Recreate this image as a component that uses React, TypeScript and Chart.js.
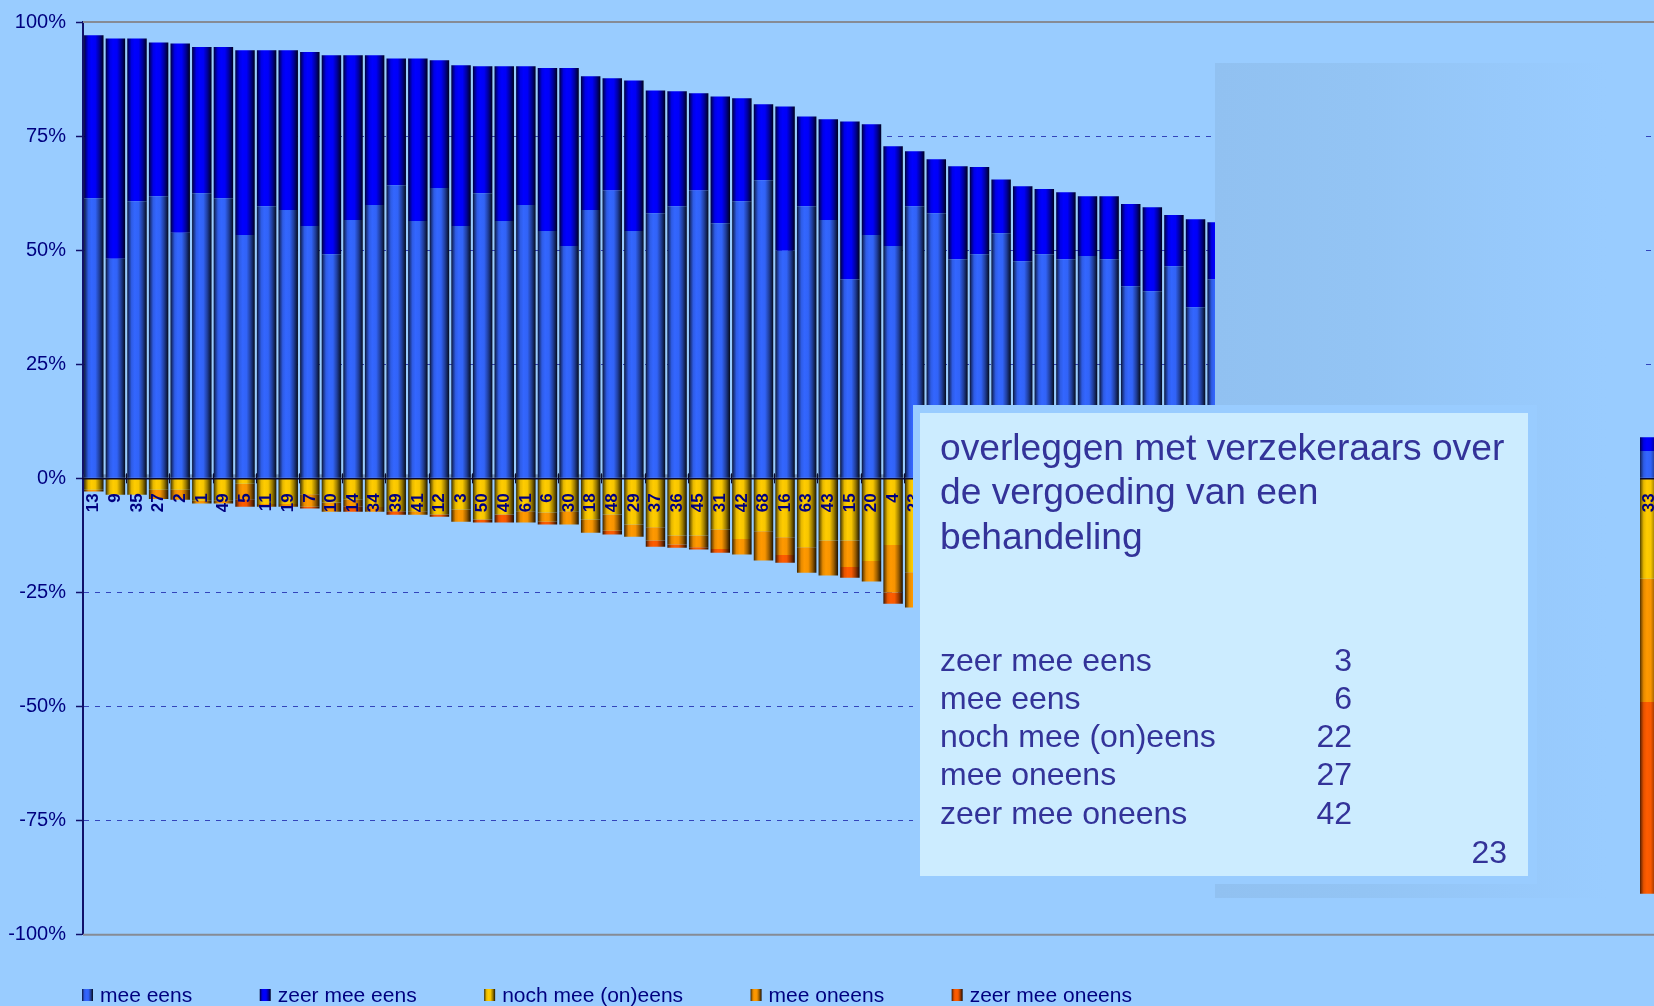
import React, { useEffect, useRef } from 'react';
import { Chart, registerables } from 'chart.js';

Chart.register(...registerables);

const FONT = '"Liberation Sans", Arial, Helvetica, sans-serif';

// ---- data -------------------------------------------------------------
const categories = [
  '13', '9', '35', '27', '2', '1', '49', '5', '11', '19',
  '7', '10', '14', '34', '39', '41', '12', '3', '50', '40',
  '61', '6', '30', '18', '48', '29', '37', '36', '45', '31',
  '42', '68', '16', '63', '43', '15', '20', '4', '23',
  '', '', '', '', '', '', '', '', '', '', '', '', '', '', '', '', '', '', '', '', '', '', '', '', '', '', '', '', '', '', '', '', '',
  '33',
];

const meeEens = [
  61.4, 48.1, 60.7, 61.8, 53.8, 62.5, 61.4, 53.3, 59.6, 58.8,
  55.3, 49.1, 56.6, 59.9, 64.2, 56.4, 63.6, 55.3, 62.5, 56.4,
  59.9, 54.2, 50.9, 58.8, 63.1, 54.2, 58.1, 59.6, 63.1, 55.9,
  60.7, 65.3, 49.9, 59.6, 56.6, 43.6, 53.3, 50.9, 59.6, 58.1,
  48.0, 49.1, 53.7, 47.6, 49.1, 48.0, 48.7, 48.0, 42.1, 41.0,
  46.5, 37.5, 43.6,
  null, null, null, null, null, null, null, null, null, null, null, null, null, null, null, null, null, null, null,
  6,
];

const zeerMeeEens = [
  35.7, 48.3, 35.7, 33.7, 41.5, 32.0, 33.1, 40.5, 34.2, 35.0,
  38.1, 43.6, 36.1, 32.8, 27.8, 35.6, 28.0, 35.2, 27.8, 33.9,
  30.4, 35.7, 39.0, 29.3, 24.6, 33.0, 26.9, 25.2, 21.3, 27.8,
  22.6, 16.7, 31.6, 19.7, 22.1, 34.6, 24.3, 21.9, 12.1, 11.8,
  20.4, 19.1, 11.8, 16.4, 14.3, 14.7, 13.1, 13.8, 18.0, 18.4,
  11.2, 19.3, 12.5,
  null, null, null, null, null, null, null, null, null, null, null, null, null, null, null, null, null, null, null,
  3,
];

const nochMeeOnEens = [
  -2.5, -3.6, -3.6, -2.5, -2.5, -4.9, -4.9, -1.2, -5.6, -5.6,
  -3.5, -5.3, -4.7, -6.3, -7.2, -7.2, -7.9, -6.8, -9.0, -7.9,
  -7.2, -7.5, -7.2, -9.0, -7.9, -10.1, -10.7, -12.5, -12.5, -11.2,
  -13.3, -11.6, -12.9, -15.1, -13.6, -13.6, -18.1, -14.6, -20.6,
  null, null, null, null, null, null, null, null, null, null, null,
  null, null, null, null, null, null, null, null, null, null, null,
  null, null, null, null, null, null, null, null, null, null, null,
  -22,
];

const meeOneens = [
  -0.4, 0, 0, -2.0, -2.2, -0.6, -0.6, -3.4, -0.6, -0.6,
  -2.7, -2.0, -1.4, -1.0, 0, -0.8, 0, -2.7, 0, 0,
  -2.5, -2.0, -2.9, -2.9, -3.6, -2.7, -2.9, -2.0, -2.6, -4.3,
  -3.4, -6.4, -3.9, -5.6, -7.7, -5.8, -4.5, -10.4, -7.7,
  null, null, null, null, null, null, null, null, null, null, null,
  null, null, null, null, null, null, null, null, null, null, null,
  null, null, null, null, null, null, null, null, null, null, null,
  -27,
];

const zeerMeeOneens = [
  0, 0, 0, 0, 0, 0, 0, -1.6, 0, 0,
  -0.4, 0, -1.2, 0, -0.8, 0, -0.5, 0, -0.7, -1.8,
  0, -0.6, 0, 0, -0.8, 0, -1.4, -0.7, -0.5, -0.8,
  0, 0, -1.7, 0, 0, -2.4, 0, -2.5, 0,
  null, null, null, null, null, null, null, null, null, null, null,
  null, null, null, null, null, null, null, null, null, null, null,
  null, null, null, null, null, null, null, null, null, null, null,
  -42,
];

const seriesLabels = ['mee eens', 'zeer mee eens', 'noch mee (on)eens', 'mee oneens', 'zeer mee oneens'];
const seriesData = [meeEens, zeerMeeEens, nochMeeOnEens, meeOneens, zeerMeeOneens];
const seriesColors: [number, number, number][] = [
  [51, 102, 255],
  [0, 0, 255],
  [255, 204, 0],
  [255, 153, 0],
  [255, 92, 0],
];

const yMin = -100;
const yMax = 100;
const yStep = 25;

const boxTitle = ['overleggen met verzekeraars over', 'de vergoeding van een', 'behandeling'];
const boxRowLabels = ['zeer mee eens', 'mee eens', 'noch mee (on)eens', 'mee oneens', 'zeer mee oneens'];
const boxRowValues = ['3', '6', '22', '27', '42'];
const boxFooter = '23';

// ---- styling helpers --------------------------------------------------
const GRAD_STOPS: [number, number][] = [
  [0, 0.2], [0.08, 0.5], [0.22, 0.9], [0.38, 1], [0.58, 0.97], [0.78, 0.62], [0.92, 0.3], [1, 0.1],
];

function shade(c: [number, number, number], f: number) {
  return `rgb(${Math.round(c[0] * f)},${Math.round(c[1] * f)},${Math.round(c[2] * f)})`;
}

function fillStops(g: CanvasGradient, c: [number, number, number]) {
  GRAD_STOPS.forEach(([p, f]) => g.addColorStop(p, shade(c, f)));
}

function barFill(c: [number, number, number]) {
  return (ctx: any) => {
    const chart = ctx.chart;
    const xs = chart && chart.scales && chart.scales.x;
    if (ctx.type !== 'data' || !xs || !chart.ctx) return shade(c, 1);
    const cx = xs.getPixelForValue(ctx.dataIndex);
    const step = Math.abs(xs.getPixelForValue(1) - xs.getPixelForValue(0));
    const hw = step * 0.45;
    if (!isFinite(cx) || !isFinite(hw) || hw <= 0) return shade(c, 1);
    const g = chart.ctx.createLinearGradient(cx - hw, 0, cx + hw, 0);
    fillStops(g, c);
    return g;
  };
}

const framePlugin = {
  id: 'frameLines',
  beforeDatasetsDraw(chart: any) {
    const { ctx, chartArea: a, scales } = chart;
    const y = scales.y;
    const y0 = y.getPixelForValue(0);
    ctx.save();
    ctx.fillStyle = 'rgba(55,65,105,0.4)';
    ctx.fillRect(a.left, y0 - 4, a.right - a.left, 4);
    ctx.strokeStyle = '#868B95';
    ctx.lineWidth = 2;
    [yMax, yMin].forEach((v) => {
      const py = y.getPixelForValue(v);
      ctx.beginPath();
      ctx.moveTo(a.left, py);
      ctx.lineTo(a.right, py);
      ctx.stroke();
    });
    ctx.restore();
  },
  afterDatasetsDraw(chart: any) {
    const { ctx, scales } = chart;
    const x = scales.x;
    const y = scales.y;
    const y0 = y.getPixelForValue(0);
    const n = chart.data.labels.length;
    const step = x.getPixelForValue(1) - x.getPixelForValue(0);
    ctx.save();
    ctx.strokeStyle = '#0a0a30';
    ctx.lineWidth = 1;
    for (let i = 2; i < n; i += 2) {
      const px = Math.round(x.getPixelForValue(i) - step / 2) + 0.5;
      ctx.beginPath();
      ctx.moveTo(px, y0 - 5);
      ctx.lineTo(px, y0 + 5);
      ctx.stroke();
    }
    ctx.restore();
  },
};

const legendPlugin = {
  id: 'bottomLegend',
  afterDraw(chart: any) {
    const ctx = chart.ctx;
    ctx.save();
    ctx.font = `21px ${FONT}`;
    ctx.textBaseline = 'middle';
    ctx.textAlign = 'left';
    let x = 82;
    const y = 995;
    chart.data.datasets.forEach((ds: any, i: number) => {
      const c = seriesColors[i];
      const g = ctx.createLinearGradient(x, 0, x + 11, 0);
      fillStops(g, c);
      ctx.fillStyle = g;
      ctx.fillRect(x, y - 6, 11, 12);
      ctx.fillStyle = '#000080';
      ctx.fillText(ds.label, x + 18, y + 1);
      x += 18 + ctx.measureText(ds.label).width + 67.5;
    });
    ctx.restore();
  },
};

export default function App() {
  const ref = useRef<HTMLCanvasElement>(null);

  useEffect(() => {
    if (!ref.current) return;
    Chart.defaults.font.family = FONT;
    const chart = new Chart(ref.current, {
      type: 'bar',
      data: {
        labels: categories,
        datasets: seriesData.map((d, i) => ({
          label: seriesLabels[i],
          data: d,
          backgroundColor: barFill(seriesColors[i]),
          borderWidth: 0,
          barPercentage: 0.9,
          categoryPercentage: 1.0,
        })),
      },
      options: {
        animation: false,
        responsive: false,
        devicePixelRatio: 1,
        layout: { padding: { left: 0, top: 20.7, right: 10, bottom: 71.3 } },
        plugins: {
          legend: { display: false },
          tooltip: { enabled: false },
        },
        scales: {
          x: {
            type: 'category',
            stacked: true,
            position: { y: 0 } as any,
            offset: true,
            afterFit: (s: any) => {
              s.paddingLeft = 0;
              s.paddingRight = 0;
            },
            grid: { display: false },
            border: { display: true, color: '#0a0a30', width: 1.5, z: 1 },
            ticks: {
              z: 1,
              autoSkip: false,
              maxRotation: 90,
              minRotation: 90,
              padding: 7,
              color: '#000080',
              font: { size: 17, weight: 'bold', family: FONT },
            },
          },
          y: {
            stacked: true,
            min: yMin,
            max: yMax,
            afterFit: (s: any) => {
              s.width = 83;
            },
            ticks: {
              stepSize: yStep,
              padding: 10,
              color: '#000080',
              font: { size: 20, family: FONT },
              callback: (v: any) => `${v}%`,
            },
            grid: {
              color: (c: any) =>
                c.tick && (c.tick.value === 0 || Math.abs(c.tick.value) === 100) ? 'rgba(0,0,0,0)' : '#3344BB',
              lineWidth: 1,
              drawTicks: true,
              tickLength: 7,
              tickColor: '#10106a',
              tickWidth: 1.5,
            },
            border: { display: true, color: '#10106a', width: 2, dash: [5, 6] },
          },
        },
      } as any,
      plugins: [framePlugin, legendPlugin],
    });
    return () => chart.destroy();
  }, []);

  return (
    <div
      style={{
        position: 'fixed',
        left: 0,
        top: 0,
        width: 1654,
        height: 1006,
        overflow: 'hidden',
        background: '#99CCFF',
        fontFamily: FONT,
      }}
    >
      <canvas
        ref={ref}
        width={1670}
        height={1006}
        style={{ position: 'absolute', left: 0, top: 0, width: 1670, height: 1006 }}
      />
      <div
        style={{
          position: 'absolute',
          left: 1215,
          top: 63,
          width: 425,
          height: 835,
          background: 'linear-gradient(to right, #91C1F1 0%, #93C4F4 35%, #97C9FB 70%, #99CCFF 92%)',
        }}
      />
      <div style={{ position: 'absolute', left: 913, top: 405, width: 624, height: 479, background: '#99CCFF' }} />
      <div
        style={{
          position: 'absolute',
          left: 920,
          top: 413,
          width: 608,
          height: 463,
          background: '#CCECFF',
          color: '#333399',
        }}
      >
        <div style={{ position: 'absolute', left: 20, top: 11.5, fontSize: 37.2, lineHeight: '44.5px', whiteSpace: 'nowrap' }}>
          {boxTitle.map((t, i) => (
            <div key={i}>{t}</div>
          ))}
        </div>
        <div style={{ position: 'absolute', left: 20, top: 227.5, width: 412, fontSize: 32, lineHeight: '38.3px' }}>
          {boxRowLabels.map((t, i) => (
            <div key={i} style={{ display: 'flex', justifyContent: 'space-between', whiteSpace: 'nowrap' }}>
              <span>{t}</span>
              <span>{boxRowValues[i]}</span>
            </div>
          ))}
        </div>
        <div
          style={{
            position: 'absolute',
            left: 20,
            top: 419.5,
            width: 567,
            fontSize: 32,
            lineHeight: '38.3px',
            textAlign: 'right',
          }}
        >
          {boxFooter}
        </div>
      </div>
    </div>
  );
}
